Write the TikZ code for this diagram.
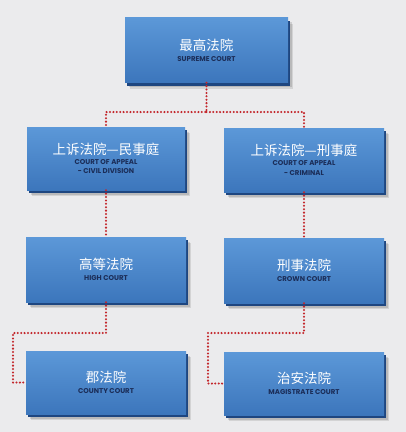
\documentclass[tikz,border=0pt]{standalone}
\usepackage{fontspec}
\newfontfamily\cjk{Noto Sans CJK SC}
\newfontfamily\enf{Poppins}
\usetikzlibrary{shadows}
\definecolor{bg}{HTML}{EBEBED}
\definecolor{boxtop}{HTML}{5C98D8}
\definecolor{boxbot}{HTML}{3C76BC}
\definecolor{edgeblue}{HTML}{1E4680}
\definecolor{entext}{HTML}{1B2D58}
\definecolor{dotred}{HTML}{C3262B}
\tikzset{
  court/.style={rectangle, minimum width=160pt, minimum height=64pt, inner sep=0pt,
    top color=boxtop, bottom color=boxbot, text=white, align=center,
    general shadow={fill=black, opacity=0.10, shadow xshift=5pt, shadow yshift=-6pt},
    general shadow={fill=black, opacity=0.12, shadow xshift=3.5pt, shadow yshift=-4.5pt},
    general shadow={fill=edgeblue, shadow xshift=2pt, shadow yshift=-3pt}},
  dotline/.style={dotred, line width=2.3pt, line cap=round, dash pattern=on 0pt off 3.4pt},
}
\newcommand{\zh}[1]{{\cjk\fontsize{13.5}{15}\selectfont #1}}
\newcommand{\en}[1]{{\enf\bfseries\fontsize{7}{8}\selectfont\color{entext}#1}}
\begin{document}
\begin{tikzpicture}[x=1pt,y=-1pt]
\fill[bg] (0,0) rectangle (406,432);
\useasboundingbox (0,0) rectangle (406,432);
\node[court, minimum width=163pt, minimum height=65pt] (sc) at (206.5,50) {\zh{最高法院}\\[-1pt]\en{SUPREME COURT}};
\node[court, minimum width=158pt, minimum height=63pt] (cac) at (106,158.5) {\zh{上诉法院—民事庭}\\[-2pt]\en{COURT OF APPEAL}\\[-2.5pt]\en{- CIVIL DIVISION}};
\node[court] (cacr) at (304,160) {\zh{上诉法院—刑事庭}\\[-2pt]\en{COURT OF APPEAL}\\[-2.5pt]\en{- CRIMINAL}};
\node[court, minimum height=65pt] (hc) at (106,269.5) {\zh{高等法院}\\[-1pt]\en{HIGH COURT}};
\node[court, minimum height=65pt] (cc) at (304,270.5) {\zh{刑事法院}\\[-1pt]\en{CROWN COURT}};
\node[court, minimum height=63pt] (county) at (106,382.5) {\zh{郡法院}\\[-1pt]\en{COUNTY COURT}};
\node[court, minimum height=63pt] (mag) at (304,383.5) {\zh{治安法院}\\[-1pt]\en{MAGISTRATE COURT}};
\coordinate (j1) at (206.5,112);
\coordinate (j2) at (13,333);
\coordinate (j3) at (208,333);
\draw[dotline] (sc.south) -- (j1) -| (cac.north);
\draw[dotline] (j1) -| (cacr.north);
\draw[dotline] (cac.south) -- (hc.north);
\draw[dotline] (cacr.south) -- (cc.north);
\draw[dotline] (hc.south) |- (j2) |- (county.west);
\draw[dotline] (cc.south) |- (j3) |- (mag.west);
\end{tikzpicture}
\end{document}
